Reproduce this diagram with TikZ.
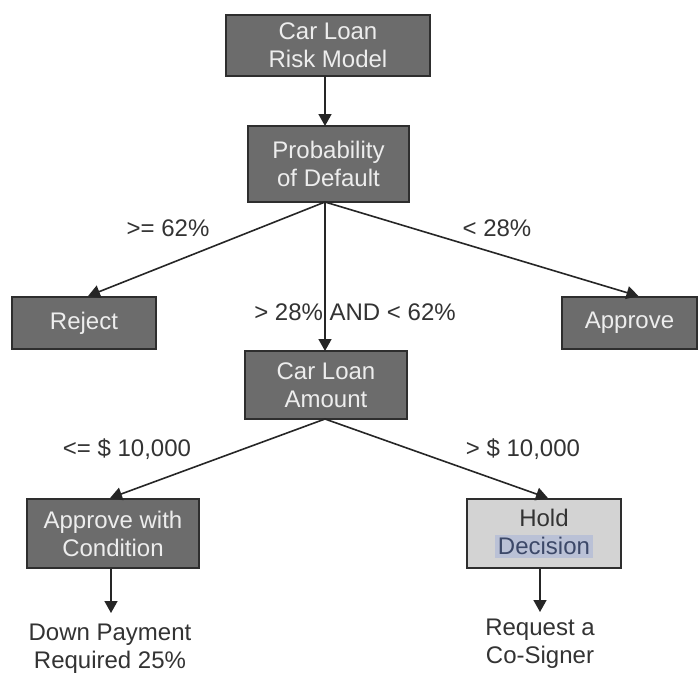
\documentclass[tikz,border=0pt]{standalone}
\usepackage{fontspec}
\setmainfont{Liberation Sans}
\usetikzlibrary{arrows.meta,calc}
\definecolor{boxfill}{HTML}{6C6C6C}
\definecolor{boxline}{HTML}{2E2E2E}
\definecolor{boxtext}{HTML}{EDEDED}
\definecolor{holdfill}{HTML}{D3D3D3}
\definecolor{hltext}{HTML}{3C4868}
\definecolor{hlback}{HTML}{BAC1D6}
\definecolor{lbl}{HTML}{333333}
\begin{document}
\begin{tikzpicture}[x=1pt,y=-1pt,
  every node/.style={font=\fontsize{24}{28}\selectfont, align=center},
  darkbox/.style={draw=boxline, line width=1.8pt, fill=boxfill, text=boxtext, inner sep=0pt},
  lightbox/.style={draw=boxline, line width=1.8pt, fill=holdfill, text=lbl, inner sep=0pt},
  conn/.style={draw=black!85, line width=1.6pt, -{Triangle[width=13pt,length=12pt]}},
  lab/.style={text=lbl, inner sep=0pt}]
\useasboundingbox (0,0) rectangle (699,677);
\fill[white] (0,0) rectangle (699,677);

\node[darkbox, minimum width=204pt, minimum height=61pt] (risk) at (328,45.5) {Car Loan\\Risk Model};
\node[darkbox, minimum width=161pt, minimum height=76pt] (pod) at (328.5,164) {Probability\\of Default};
\node[darkbox, minimum width=144pt, minimum height=52pt] (rej) at (84,323) {Reject};
\node[darkbox, minimum width=135pt, minimum height=52pt] (app) at (629.5,323) {Approve};
\node[darkbox, minimum width=162pt, minimum height=68pt] (amt) at (326,385) {Car Loan\\Amount};
\node[darkbox, minimum width=172pt, minimum height=69pt] (cond) at (113,533.5) {Approve with\\Condition};
\node[lightbox, minimum width=154pt, minimum height=69pt] (hold) at (544,533.5)
  {Hold\\{\setlength\fboxsep{2.5pt}\colorbox{hlback}{\textcolor{hltext}{Decision}}}};

\coordinate (podout) at (325,202);
\coordinate (amtout) at (325,419);
\coordinate (d1) at (111,613);
\coordinate (d2) at (540,612);

\draw[conn] (325,76) -- (325,126);
\draw[conn] (podout) -- ([xshift=4pt]rej.north);
\draw[conn] (podout) -- (325,351);
\draw[conn] (podout) -- ([xshift=9pt]app.north);
\draw[conn] (amtout) -- ([xshift=-3pt]cond.north);
\draw[conn] (amtout) -- ([xshift=4pt]hold.north);
\draw[conn] (cond.south -| d1) -- (d1);
\draw[conn] (hold.south -| d2) -- (d2);

\node[lab] (l1) at (168,228) {>= 62\%};
\node[lab] (l2) at (497,228) {< 28\%};
\node[lab] (l3) at (355,312) {> 28\% AND < 62\%};
\node[lab] (l4) at (127,449) {<= \$ 10,000};
\node[lab] (l5) at (523,449) {> \$ 10,000};

\node[lab, anchor=north] (t1) at ($(d1)+(-1,11)$) {Down Payment\\Required 25\%};
\node[lab, anchor=north] (t2) at ($(d2)+(0,7)$) {Request a\\Co-Signer};
\end{tikzpicture}
\end{document}
